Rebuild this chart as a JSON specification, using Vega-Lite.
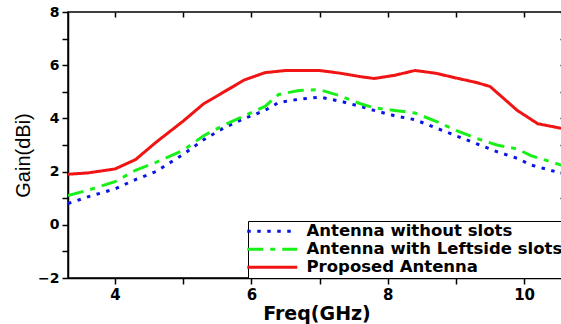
{
  "$schema": "https://vega.github.io/schema/vega-lite/v6.json",
  "autosize": {"type": "none"},
  "padding": {"left": 68, "top": 12, "right": 0, "bottom": 46},
  "width": 497,
  "height": 266,
  "background": "white",
  "config": {
    "view": {"stroke": "black", "strokeWidth": 1.5},
    "axis": {"grid": false, "domainColor": "black", "domainWidth": 1.5, "tickColor": "black", "tickWidth": 1.5, "labelColor": "black", "titleColor": "black"}
  },
  "data": {"values": [
    {"f": 3.31, "g": 0.8, "s": "Antenna without slots"},
    {"f": 3.6, "g": 1.05, "s": "Antenna without slots"},
    {"f": 4.0, "g": 1.35, "s": "Antenna without slots"},
    {"f": 4.3, "g": 1.7, "s": "Antenna without slots"},
    {"f": 4.6, "g": 2.0, "s": "Antenna without slots"},
    {"f": 5.0, "g": 2.65, "s": "Antenna without slots"},
    {"f": 5.3, "g": 3.2, "s": "Antenna without slots"},
    {"f": 5.6, "g": 3.65, "s": "Antenna without slots"},
    {"f": 5.9, "g": 4.0, "s": "Antenna without slots"},
    {"f": 6.2, "g": 4.3, "s": "Antenna without slots"},
    {"f": 6.4, "g": 4.6, "s": "Antenna without slots"},
    {"f": 6.7, "g": 4.72, "s": "Antenna without slots"},
    {"f": 7.0, "g": 4.8, "s": "Antenna without slots"},
    {"f": 7.3, "g": 4.65, "s": "Antenna without slots"},
    {"f": 7.6, "g": 4.45, "s": "Antenna without slots"},
    {"f": 7.8, "g": 4.3, "s": "Antenna without slots"},
    {"f": 8.1, "g": 4.1, "s": "Antenna without slots"},
    {"f": 8.4, "g": 3.95, "s": "Antenna without slots"},
    {"f": 8.7, "g": 3.65, "s": "Antenna without slots"},
    {"f": 9.0, "g": 3.35, "s": "Antenna without slots"},
    {"f": 9.3, "g": 3.05, "s": "Antenna without slots"},
    {"f": 9.6, "g": 2.75, "s": "Antenna without slots"},
    {"f": 9.9, "g": 2.5, "s": "Antenna without slots"},
    {"f": 10.1, "g": 2.25, "s": "Antenna without slots"},
    {"f": 10.6, "g": 1.9, "s": "Antenna without slots"},
    {"f": 3.31, "g": 1.1, "s": "Antenna with Leftside slots"},
    {"f": 3.6, "g": 1.3, "s": "Antenna with Leftside slots"},
    {"f": 4.0, "g": 1.62, "s": "Antenna with Leftside slots"},
    {"f": 4.3, "g": 2.05, "s": "Antenna with Leftside slots"},
    {"f": 4.6, "g": 2.35, "s": "Antenna with Leftside slots"},
    {"f": 5.0, "g": 2.8, "s": "Antenna with Leftside slots"},
    {"f": 5.3, "g": 3.35, "s": "Antenna with Leftside slots"},
    {"f": 5.6, "g": 3.75, "s": "Antenna with Leftside slots"},
    {"f": 5.9, "g": 4.1, "s": "Antenna with Leftside slots"},
    {"f": 6.2, "g": 4.45, "s": "Antenna with Leftside slots"},
    {"f": 6.4, "g": 4.9, "s": "Antenna with Leftside slots"},
    {"f": 6.7, "g": 5.05, "s": "Antenna with Leftside slots"},
    {"f": 7.0, "g": 5.08, "s": "Antenna with Leftside slots"},
    {"f": 7.3, "g": 4.85, "s": "Antenna with Leftside slots"},
    {"f": 7.6, "g": 4.55, "s": "Antenna with Leftside slots"},
    {"f": 7.8, "g": 4.4, "s": "Antenna with Leftside slots"},
    {"f": 8.1, "g": 4.3, "s": "Antenna with Leftside slots"},
    {"f": 8.4, "g": 4.2, "s": "Antenna with Leftside slots"},
    {"f": 8.7, "g": 3.9, "s": "Antenna with Leftside slots"},
    {"f": 9.0, "g": 3.55, "s": "Antenna with Leftside slots"},
    {"f": 9.3, "g": 3.25, "s": "Antenna with Leftside slots"},
    {"f": 9.6, "g": 3.0, "s": "Antenna with Leftside slots"},
    {"f": 9.9, "g": 2.85, "s": "Antenna with Leftside slots"},
    {"f": 10.1, "g": 2.6, "s": "Antenna with Leftside slots"},
    {"f": 10.6, "g": 2.2, "s": "Antenna with Leftside slots"},
    {"f": 3.31, "g": 1.9, "s": "Proposed Antenna"},
    {"f": 3.6, "g": 1.95, "s": "Proposed Antenna"},
    {"f": 4.0, "g": 2.1, "s": "Proposed Antenna"},
    {"f": 4.3, "g": 2.45, "s": "Proposed Antenna"},
    {"f": 4.6, "g": 3.1, "s": "Proposed Antenna"},
    {"f": 5.0, "g": 3.9, "s": "Proposed Antenna"},
    {"f": 5.3, "g": 4.55, "s": "Proposed Antenna"},
    {"f": 5.6, "g": 5.0, "s": "Proposed Antenna"},
    {"f": 5.9, "g": 5.45, "s": "Proposed Antenna"},
    {"f": 6.2, "g": 5.72, "s": "Proposed Antenna"},
    {"f": 6.5, "g": 5.8, "s": "Proposed Antenna"},
    {"f": 7.0, "g": 5.8, "s": "Proposed Antenna"},
    {"f": 7.3, "g": 5.7, "s": "Proposed Antenna"},
    {"f": 7.6, "g": 5.57, "s": "Proposed Antenna"},
    {"f": 7.8, "g": 5.5, "s": "Proposed Antenna"},
    {"f": 8.1, "g": 5.62, "s": "Proposed Antenna"},
    {"f": 8.4, "g": 5.8, "s": "Proposed Antenna"},
    {"f": 8.7, "g": 5.7, "s": "Proposed Antenna"},
    {"f": 9.0, "g": 5.52, "s": "Proposed Antenna"},
    {"f": 9.3, "g": 5.35, "s": "Proposed Antenna"},
    {"f": 9.5, "g": 5.2, "s": "Proposed Antenna"},
    {"f": 9.7, "g": 4.75, "s": "Proposed Antenna"},
    {"f": 9.9, "g": 4.3, "s": "Proposed Antenna"},
    {"f": 10.2, "g": 3.8, "s": "Proposed Antenna"},
    {"f": 10.6, "g": 3.6, "s": "Proposed Antenna"}
  ]},
  "resolve": {"axis": {"x": "independent", "y": "independent"}},
  "layer": [
    {
      "mark": {"type": "line", "strokeWidth": 3, "clip": true, "strokeCap": "butt"},
      "encoding": {
        "x": {"field": "f", "type": "quantitative",
          "scale": {"domain": [3.31, 10.6], "nice": false, "zero": false},
          "axis": {"orient": "bottom", "values": [4, 5, 6, 7, 8, 9, 10], "labelExpr": "datum.value % 2 === 0 ? datum.label : ''",
            "tickSize": 6, "labelPadding": 3, "labelFont": "DejaVu Sans", "labelFontWeight": "bold", "labelFontSize": 15,
            "title": "Freq(GHz)", "titleFont": "DejaVu Sans", "titleFontWeight": "bold", "titleFontSize": 19, "titlePadding": 2}},
        "y": {"field": "g", "type": "quantitative",
          "scale": {"domain": [-2, 8], "nice": false, "zero": false},
          "axis": {"orient": "left", "values": [-2, -1, 0, 1, 2, 3, 4, 5, 6, 7, 8], "labelExpr": "datum.value % 2 === 0 ? datum.label : ''",
            "tickSize": 6, "labelPadding": 3, "labelFont": "DejaVu Sans", "labelFontWeight": "bold", "labelFontSize": 14,
            "title": "Gain(dBi)", "titleFont": "Arial", "titleFontWeight": "normal", "titleFontSize": 20, "titlePadding": 4, "titleLimit": 0, "titleY": 143}},
        "color": {"field": "s", "type": "nominal",
          "scale": {"domain": ["Antenna without slots", "Antenna with Leftside slots", "Proposed Antenna"], "range": ["#0a14e6", "#19f019", "#f01414"]},
          "legend": {"orient": "bottom-right", "offset": 0, "title": null, "strokeColor": "black", "fillColor": "white", "padding": 2,
            "symbolType": "M-5,0H5", "symbolSize": 100, "symbolOffset": 14, "symbolStrokeWidth": 3, "labelFont": "DejaVu Sans", "labelFontWeight": "bold", "labelFontSize": 16.5, "labelColor": "black", "labelOffset": 26, "labelLimit": 0, "rowPadding": 1}},
        "strokeDash": {"field": "s", "type": "nominal",
          "scale": {"domain": ["Antenna without slots", "Antenna with Leftside slots", "Proposed Antenna"], "range": [[3.5, 6.5], [16, 7, 5, 7], [1, 0]]},
          "legend": null}
      }
    },
    {
      "mark": {"type": "line", "opacity": 0},
      "encoding": {
        "x": {"field": "f", "type": "quantitative",
          "axis": {"orient": "top", "values": [4, 5, 6, 7, 8, 9, 10], "labels": false, "tickSize": -5, "title": null, "domain": false}},
        "y": {"field": "g", "type": "quantitative",
          "axis": {"orient": "right", "values": [-2, -1, 0, 1, 2, 3, 4, 5, 6, 7, 8], "labels": false, "tickSize": -5, "title": null, "domain": false}}
      }
    }
  ]
}
